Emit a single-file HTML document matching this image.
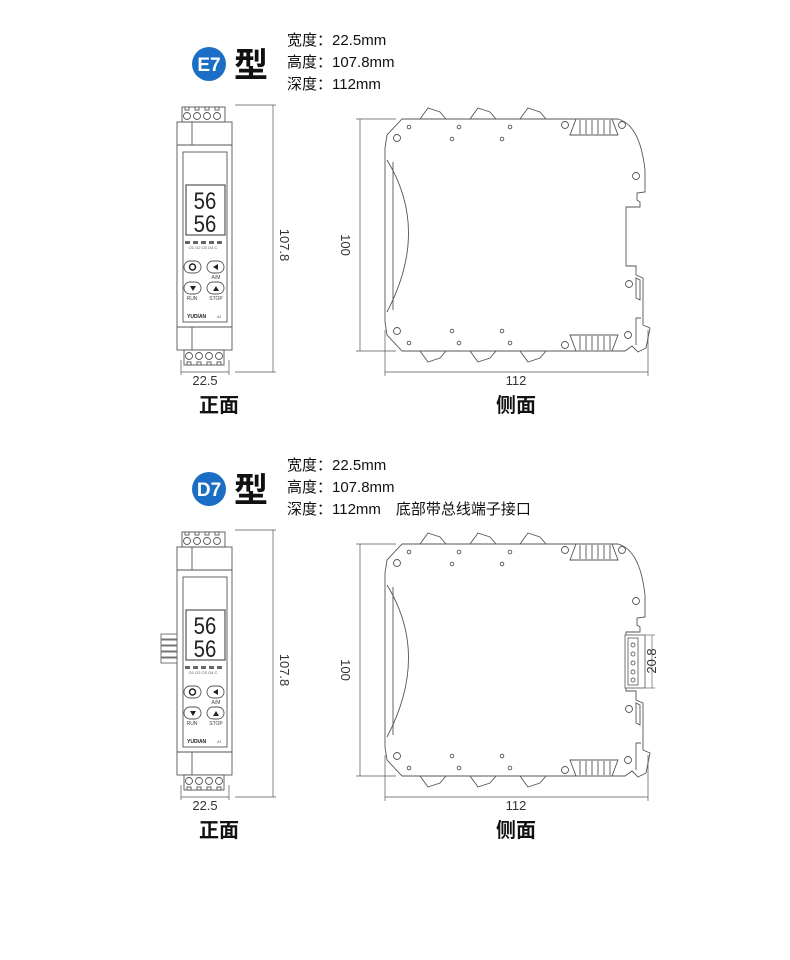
<!DOCTYPE html>
<html><head><meta charset="utf-8"><style>
html,body{margin:0;padding:0;background:#fff;}
svg{display:block;}
text{font-family:"Liberation Sans","Noto Sans CJK SC",sans-serif;}
</style></head><body>
<svg width="790" height="960" viewBox="0 0 790 960" xmlns="http://www.w3.org/2000/svg">
<defs>
<g id="front" fill="none" stroke="#555" stroke-width="0.9">
  <rect x="182" y="107" width="43" height="15" fill="#fff"/>
  <g fill="#fff"><circle cx="187" cy="116" r="3.5"/><circle cx="197" cy="116" r="3.5"/><circle cx="207" cy="116" r="3.5"/><circle cx="217" cy="116" r="3.5"/>
  <rect x="185" y="107" width="4" height="3"/><rect x="195" y="107" width="4" height="3"/><rect x="205" y="107" width="4" height="3"/><rect x="215" y="107" width="4" height="3"/></g>
  <rect x="177" y="122" width="55" height="228"/>
  <line x1="177" y1="145" x2="232" y2="145"/><line x1="192" y1="122" x2="192" y2="145"/>
  <line x1="177" y1="327" x2="232" y2="327"/><line x1="192" y1="327" x2="192" y2="350"/>
  <rect x="183" y="152" width="44" height="170"/>
  <rect x="186" y="185" width="39" height="50" stroke-width="1.2"/>
  <text x="205" y="209" font-size="24" fill="#222" stroke="none" text-anchor="middle" font-family="Liberation Sans Narrow, Liberation Sans" transform="translate(205,0) scale(0.85,1) translate(-205,0)">56</text>
  <text x="205" y="232" font-size="24" fill="#222" stroke="none" text-anchor="middle" font-family="Liberation Sans Narrow, Liberation Sans" transform="translate(205,0) scale(0.85,1) translate(-205,0)">56</text>
  <g fill="#666" stroke="none"><rect x="185" y="241" width="5" height="3"/><rect x="193" y="241" width="5" height="3"/><rect x="201" y="241" width="5" height="3"/><rect x="209" y="241" width="5" height="3"/><rect x="217" y="241" width="5" height="3"/></g>
  <text x="203" y="249" font-size="4" fill="#555" stroke="none" text-anchor="middle">O1  O2  O3  O4  C</text>
  <rect x="184" y="261" width="17" height="12" rx="6"/><rect x="207" y="261" width="17" height="12" rx="6"/>
  <rect x="184" y="282" width="17" height="12" rx="6"/><rect x="207" y="282" width="17" height="12" rx="6"/>
  <circle cx="192.5" cy="267" r="3" stroke-width="1.5" stroke="#222"/>
  <path d="M213 267 l5 -3 v6z M190 286 h6 l-3 5z M213 291 l3 -5 l3 5z" fill="#222" stroke="none"/>
  <text x="216" y="279" font-size="5" fill="#444" stroke="none" text-anchor="middle">A/M</text>
  <text x="192" y="300" font-size="5" fill="#444" stroke="none" text-anchor="middle">RUN</text>
  <text x="216" y="300" font-size="5" fill="#444" stroke="none" text-anchor="middle">STOP</text>
  <text x="187" y="318" font-size="5" fill="#222" stroke="none" font-weight="bold">YUDIAN</text>
  <text x="217" y="318" font-size="4" fill="#555" stroke="none">AI</text>
  <rect x="184" y="350" width="40" height="15" fill="#fff"/>
  <g fill="#fff"><circle cx="189" cy="356" r="3.5"/><circle cx="199" cy="356" r="3.5"/><circle cx="209" cy="356" r="3.5"/><circle cx="219" cy="356" r="3.5"/>
  <rect x="187" y="362" width="4" height="3"/><rect x="197" y="362" width="4" height="3"/><rect x="207" y="362" width="4" height="3"/><rect x="217" y="362" width="4" height="3"/></g>
  <line x1="235" y1="105" x2="276" y2="105" stroke-width="0.7"/><line x1="235" y1="372" x2="276" y2="372" stroke-width="0.7"/>
  <line x1="273" y1="105" x2="273" y2="372" stroke-width="0.7"/>
  <line x1="181" y1="360" x2="181" y2="375" stroke-width="0.7"/><line x1="229" y1="360" x2="229" y2="375" stroke-width="0.7"/>
  <line x1="181" y1="372" x2="229" y2="372" stroke-width="0.7"/>
</g>
<g id="side" fill="none" stroke="#555" stroke-width="0.9">
  <path d="M420 119 l8 -11 l12 4 l6 7 M470 119 l8 -11 l12 4 l6 7 M520 119 l8 -11 l12 4 l6 7" fill="#fff"/>
  <path d="M420 351 l8 11 l12 -4 l6 -7 M470 351 l8 11 l12 -4 l6 -7 M520 351 l8 11 l12 -4 l6 -7" fill="#fff"/>
  <path d="M402 119 H618 Q640 125 645 170 L645 192 L637 193 L637 200 L640 202 L640 207 L626 207 L626 266 L636 266 L636 275 L643 278 L643 325 L650 328 L646 348 L638 352 L632 346 L625 351 L402 351 L387 335 L385 322 L385 148 L387 135 Z" fill="#fff"/>
  <path d="M387 160 Q430 230 387 312"/>
  <line x1="393" y1="162" x2="393" y2="310"/>
  <path d="M570 135 L576 119 H612 L618 135 Z M580 120 V134 M586 120 V134 M592 120 V134 M598 120 V134 M604 120 V134 M610 120 V134"/>
  <path d="M570 335 L576 351 H612 L618 335 Z M580 336 V350 M586 336 V350 M592 336 V350 M598 336 V350 M604 336 V350 M610 336 V350"/>
  <path d="M636 278 V298 l4 2 V280 Z M636 318 V345 M636 318 h5"/>
  <g fill="#fff">
  <circle cx="397" cy="138" r="3.5"/><circle cx="397" cy="331" r="3.5"/>
  <circle cx="565" cy="125" r="3.5"/><circle cx="622" cy="125" r="3.5"/><circle cx="636" cy="176" r="3.5"/><circle cx="629" cy="284" r="3.5"/><circle cx="628" cy="335" r="3.5"/><circle cx="565" cy="345" r="3.5"/>
  <circle cx="409" cy="127" r="1.8"/><circle cx="459" cy="127" r="1.8"/><circle cx="510" cy="127" r="1.8"/>
  <circle cx="452" cy="139" r="1.8"/><circle cx="502" cy="139" r="1.8"/>
  <circle cx="452" cy="331" r="1.8"/><circle cx="502" cy="331" r="1.8"/>
  <circle cx="409" cy="343" r="1.8"/><circle cx="459" cy="343" r="1.8"/><circle cx="510" cy="343" r="1.8"/></g>
  <g stroke-width="0.7">
  <line x1="356" y1="119" x2="396" y2="119"/><line x1="356" y1="351" x2="396" y2="351"/>
  <line x1="360" y1="119" x2="360" y2="351"/>
  <line x1="385" y1="330" x2="385" y2="376"/><line x1="648" y1="330" x2="648" y2="376"/>
  <line x1="385" y1="372" x2="648" y2="372"/></g>
</g>
</defs>

<!-- E7 -->
<circle cx="209" cy="64" r="17" fill="#1a6fc4"/>
<text x="209" y="71" font-size="19" fill="#fff" text-anchor="middle" font-weight="bold">E7</text>
<text x="234" y="77" font-size="34" fill="#111" font-weight="bold">型</text>
<text x="287" y="45" font-size="15" fill="#111">宽度：22.5mm</text>
<text x="287" y="67" font-size="15" fill="#111">高度：107.8mm</text>
<text x="287" y="89" font-size="15" fill="#111">深度：112mm</text>
<use href="#front"/>
<text transform="translate(280,245) rotate(90)" font-size="13" fill="#333" text-anchor="middle">107.8</text>
<text x="205" y="385" font-size="13" fill="#333" text-anchor="middle">22.5</text>
<text x="219" y="412" font-size="20" fill="#111" text-anchor="middle" font-weight="bold">正面</text>
<use href="#side"/>
<text transform="translate(341,245) rotate(90)" font-size="13" fill="#333" text-anchor="middle">100</text>
<text x="516" y="385" font-size="13" fill="#333" text-anchor="middle">112</text>
<text x="516" y="412" font-size="20" fill="#111" text-anchor="middle" font-weight="bold">侧面</text>

<!-- D7 -->
<circle cx="209" cy="489" r="17" fill="#1a6fc4"/>
<text x="209" y="496" font-size="19" fill="#fff" text-anchor="middle" font-weight="bold">D7</text>
<text x="234" y="502" font-size="34" fill="#111" font-weight="bold">型</text>
<text x="287" y="470" font-size="15" fill="#111">宽度：22.5mm</text>
<text x="287" y="492" font-size="15" fill="#111">高度：107.8mm</text>
<text x="287" y="514" font-size="15" fill="#111">深度：112mm　底部带总线端子接口</text>
<g transform="translate(0,425)"><use href="#front"/><use href="#side"/></g>
<g fill="#fff" stroke="#666" stroke-width="0.9">
<rect x="161" y="634" width="16" height="5"/><rect x="161" y="640" width="16" height="5"/><rect x="161" y="646" width="16" height="5"/><rect x="161" y="652" width="16" height="5"/><rect x="161" y="658" width="16" height="5"/>
<rect x="625" y="635" width="20" height="53"/><rect x="628" y="638" width="10" height="47"/>
<circle cx="633" cy="645" r="2"/><circle cx="633" cy="654" r="2"/><circle cx="633" cy="663" r="2"/><circle cx="633" cy="672" r="2"/><circle cx="633" cy="680" r="2"/>
</g>
<g stroke="#666" stroke-width="0.7"><line x1="645" y1="635" x2="655" y2="635"/><line x1="645" y1="688" x2="655" y2="688"/><line x1="652" y1="635" x2="652" y2="688"/></g>
<text transform="translate(656,661) rotate(-90)" font-size="13" fill="#333" text-anchor="middle">20.8</text>
<text transform="translate(280,670) rotate(90)" font-size="13" fill="#333" text-anchor="middle">107.8</text>
<text x="205" y="810" font-size="13" fill="#333" text-anchor="middle">22.5</text>
<text x="219" y="837" font-size="20" fill="#111" text-anchor="middle" font-weight="bold">正面</text>
<text transform="translate(341,670) rotate(90)" font-size="13" fill="#333" text-anchor="middle">100</text>
<text x="516" y="810" font-size="13" fill="#333" text-anchor="middle">112</text>
<text x="516" y="837" font-size="20" fill="#111" text-anchor="middle" font-weight="bold">侧面</text>
</svg>
</body></html>
